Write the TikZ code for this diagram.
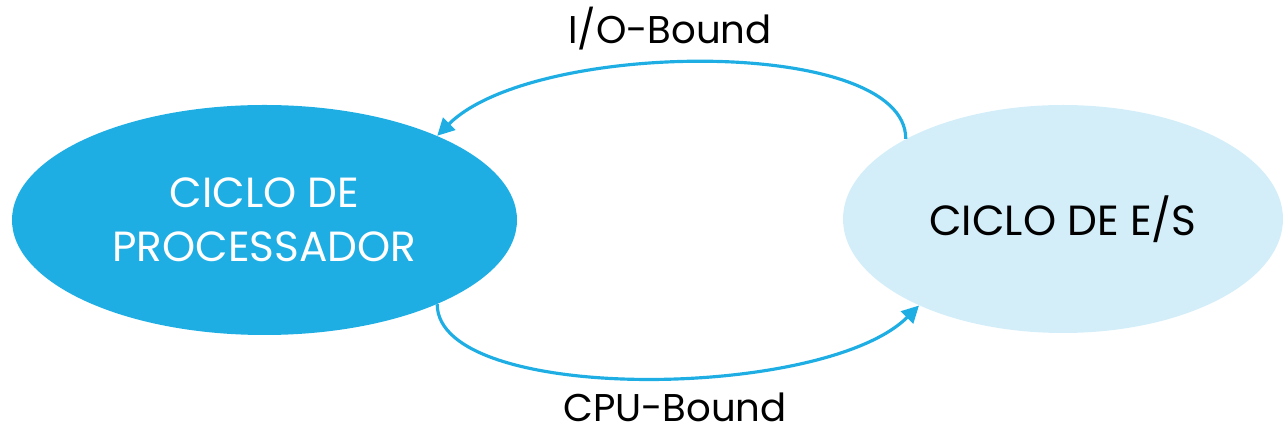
\documentclass[tikz,border=0pt]{standalone}
\usepackage{fontspec}
\setmainfont{Poppins}
\usepackage{tikz}
\usetikzlibrary{arrows.meta,shapes.geometric}
\definecolor{cyclblue}{RGB}{30,174,228}
\definecolor{cycllight}{RGB}{212,238,249}

\begin{document}
\begin{tikzpicture}[
        >=Latex, font=\fontsize{24}{30.5}\selectfont,
        cyc/.style={ellipse, inner sep=0pt, align=center},
        lbl/.style={font=\fontsize{22}{26}\selectfont},
        line/.style={-{Triangle[length=0.34cm,width=0.34cm]}, draw=cyclblue, line width=1.8pt}]
        \useasboundingbox (0,0) rectangle (25.66,8.72);
        \node[cyc, fill=cyclblue, text=white, minimum width=10.1cm, minimum height=4.6cm] (cp) at (5.29,4.32) {CICLO DE\\ PROCESSADOR};
        \node[cyc, fill=cycllight, minimum width=8.8cm, minimum height=4.56cm] (es) at (21.26,4.34) {CICLO DE E/S};
        \node[lbl] (io) at (13.4,8.14) {I/O-Bound};
        \node[lbl] (cpu) at (13.5,0.58) {CPU-Bound};
        \draw[line] (es.153) .. controls +(0,2.06) and +(1.92,1.92) .. (cp.26);
        \draw[line] (cp.-26) .. controls +(0,-2.0) and +(-1.9,-1.9) .. (es.211);
    \end{tikzpicture}
\end{document}
